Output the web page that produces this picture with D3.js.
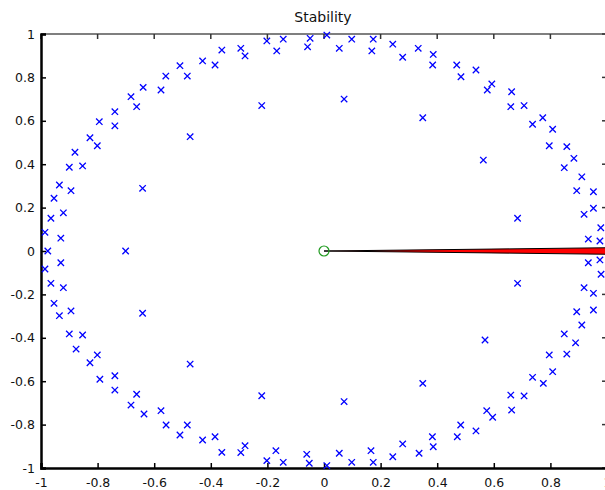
<!DOCTYPE html>
<html><head><meta charset="utf-8">
<script src="https://cdn.jsdelivr.net/npm/d3@7"></script>
<style>body{margin:0;background:#fff;}svg{display:block;}</style>
</head><body>
<script>
const title = "Stability";
const xTicks = [-1, -0.8, -0.6, -0.4, -0.2, 0, 0.2, 0.4, 0.6, 0.8, 1];
const yTicks = [-1, -0.8, -0.6, -0.4, -0.2, 0, 0.2, 0.4, 0.6, 0.8, 1];
const zeroRe = [0];
const zeroIm = [0];
const wedgeX = [0, 1, 1];
const wedgeY = [0, 0.015, -0.015];
const poleRe = [
 -0.880,-0.827,-0.801,-0.794,-0.739,-0.739,-0.682,-0.662,-0.639,-0.576,-0.559,-0.509,-0.483,-0.473,-0.429,-0.385,-0.361,-0.294,-0.279,-0.202,-0.167,-0.144,-0.049,-0.058,0.010,0.054,0.098,0.174,0.169,0.243,-0.220,0.071,0.278,0.333,0.386,0.384,0.469,0.484,0.537,0.593,0.577,0.663,0.660,0.707,0.773,0.737,0.808,0.796,0.858,0.883,0.563,0.349,-0.900,-0.853,-0.935,-0.894,-0.954,-0.641,-0.965,-0.921,-0.986,-0.930,0.849,0.911,0.893,0.952,0.919,0.952,0.978,0.934,0.975,0.684,
 -0.976,-0.701,
 -0.986,-0.930,-0.965,-0.921,-0.954,-0.935,-0.894,-0.641,-0.900,-0.853,-0.876,-0.827,-0.801,-0.792,-0.739,-0.739,-0.682,-0.662,-0.636,-0.576,-0.558,-0.509,-0.483,-0.473,-0.429,-0.385,-0.361,-0.294,-0.279,-0.202,-0.170,-0.144,-0.061,-0.052,0.010,0.054,0.098,0.166,0.174,0.243,-0.220,0.071,0.278,0.336,0.383,0.386,0.471,0.483,0.537,0.575,0.596,0.660,0.663,0.707,0.737,0.775,0.796,0.808,0.849,0.858,0.889,0.569,0.349,0.934,0.975,0.979,0.919,0.952,0.684,0.893,0.952,0.911
];
const poleIm = [
 0.455,0.522,0.485,0.596,0.642,0.577,0.711,0.665,0.754,0.742,0.806,0.854,0.806,0.527,0.876,0.857,0.926,0.934,0.899,0.968,0.922,0.976,0.980,0.941,0.995,0.934,0.976,0.976,0.922,0.953,0.670,0.700,0.893,0.934,0.906,0.857,0.857,0.803,0.834,0.770,0.742,0.734,0.665,0.670,0.614,0.584,0.561,0.485,0.481,0.427,0.419,0.614,0.386,0.392,0.304,0.278,0.243,0.289,0.151,0.176,0.086,0.059,0.384,0.342,0.278,0.273,0.169,0.197,0.107,0.055,0.046,0.151,
 0, 0,
 -0.083,-0.054,-0.149,-0.169,-0.241,-0.298,-0.276,-0.287,-0.382,-0.387,-0.452,-0.515,-0.479,-0.591,-0.575,-0.641,-0.710,-0.660,-0.751,-0.736,-0.802,-0.848,-0.802,-0.521,-0.871,-0.856,-0.928,-0.929,-0.897,-0.966,-0.920,-0.974,-0.937,-0.978,-0.989,-0.932,-0.974,-0.920,-0.974,-0.948,-0.667,-0.694,-0.889,-0.932,-0.856,-0.902,-0.856,-0.802,-0.829,-0.736,-0.766,-0.664,-0.733,-0.668,-0.582,-0.610,-0.479,-0.556,-0.382,-0.475,-0.423,-0.410,-0.610,-0.054,-0.041,-0.107,-0.169,-0.195,-0.149,-0.280,-0.272,-0.341
];

const W = 605, H = 490;
const m = {left: 41, right: 607, top: 34, bottom: 468};
const FONT = "'DejaVu Sans', Verdana, sans-serif";
const svg = d3.select("body").append("svg").attr("width", W).attr("height", H)
  .style("font-family", FONT);

const x = d3.scaleLinear().domain([-1, 1]).range([m.left, m.right]);
const y = d3.scaleLinear().domain([-1, 1]).range([m.bottom, m.top]);

// title
svg.append("text").attr("x", x(0) - 1).attr("y", 22).attr("text-anchor", "middle")
  .attr("font-size", 14).attr("fill", "#111").text(title);

// frame: top and right thin
svg.append("line").attr("x1", m.left).attr("x2", m.right).attr("y1", m.top).attr("y2", m.top)
  .attr("stroke", "#555").attr("stroke-width", 1.5);
svg.append("line").attr("x1", m.right).attr("x2", m.right).attr("y1", m.top).attr("y2", m.bottom)
  .attr("stroke", "#555").attr("stroke-width", 1.5);

// inner ticks on top/right
const tk = 5;
svg.append("g").selectAll("line").data(xTicks).join("line")
  .attr("x1", d => x(d)).attr("x2", d => x(d)).attr("y1", m.top).attr("y2", m.top + tk)
  .attr("stroke", "#333").attr("stroke-width", 1.5);
svg.append("g").selectAll("line").data(yTicks).join("line")
  .attr("x1", m.right - tk).attr("x2", m.right).attr("y1", d => y(d)).attr("y2", d => y(d))
  .attr("stroke", "#333").attr("stroke-width", 1.5);

// bottom axis
const xAxis = d3.axisBottom(x).tickValues(xTicks).tickSize(-tk).tickPadding(10)
  .tickFormat(d => d3.format("")(d).replace("\u2212", "-"));
const gx = svg.append("g").attr("transform", `translate(0,${m.bottom})`).call(xAxis);
gx.select(".domain").attr("stroke", "#000").attr("stroke-width", 2.5);
gx.selectAll(".tick line").attr("stroke", "#000").attr("stroke-width", 1.5);
gx.selectAll("text").attr("font-size", 12.5).attr("fill", "#111").attr("font-family", FONT);

// left axis
const yAxis = d3.axisLeft(y).tickValues(yTicks).tickSize(-tk).tickPadding(6)
  .tickFormat(d => d3.format("")(d).replace("\u2212", "-"));
const gy = svg.append("g").attr("transform", `translate(${m.left},0)`).call(yAxis);
gy.select(".domain").attr("stroke", "#000").attr("stroke-width", 2.5);
gy.selectAll(".tick line").attr("stroke", "#000").attr("stroke-width", 1.5);
gy.selectAll("text").attr("font-size", 12.5).attr("fill", "#111").attr("font-family", FONT);

// wedge
const wedge = wedgeX.map((d, i) => [x(d), y(wedgeY[i])]);
svg.append("path").attr("d", d3.line()(wedge) + "Z")
  .attr("fill", "#ff0000").attr("stroke", "#000").attr("stroke-width", 1);

// zero
svg.append("g").selectAll("circle").data(zeroRe).join("circle")
  .attr("cx", d => x(d)).attr("cy", (d, i) => y(zeroIm[i])).attr("r", 5)
  .attr("fill", "none").attr("stroke", "#1f9a1f").attr("stroke-width", 1.2);

// poles
const s = 3.2;
const pg = svg.append("g").attr("stroke", "#0000ff").attr("stroke-width", 1.3);
poleRe.forEach((re, i) => {
  const cx = x(re), cy = y(poleIm[i]);
  pg.append("path").attr("d", `M${cx - s},${cy - s}L${cx + s},${cy + s}M${cx - s},${cy + s}L${cx + s},${cy - s}`);
});
</script>
</body></html>
